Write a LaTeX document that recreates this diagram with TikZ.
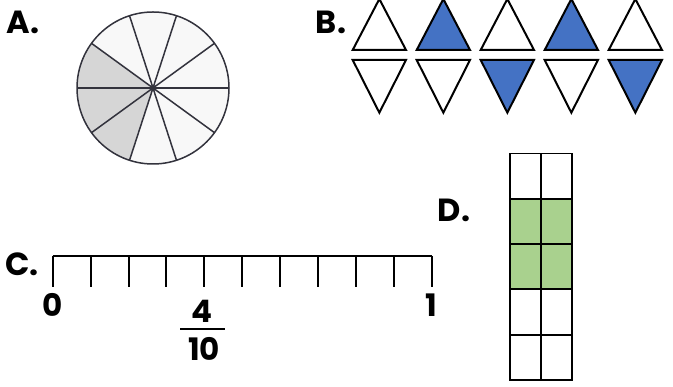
\documentclass[tikz,border=0pt]{standalone}
\usepackage{fontspec}
\setmainfont{Poppins}
\usetikzlibrary{positioning}
\definecolor{triblue}{RGB}{68,114,196}
\definecolor{gridgreen}{RGB}{169,209,142}
\definecolor{piegray}{RGB}{214,214,214}
\definecolor{piewhite}{RGB}{248,248,248}
\definecolor{pieline}{RGB}{51,51,61}

\begin{document}
\begin{tikzpicture}[x=1pt,y=1pt,
  partlabel/.style={font=\fontsize{32}{32}\selectfont\bfseries,inner sep=0pt},
  numlabel/.style={font=\fontsize{31}{31}\selectfont\bfseries,inner sep=0pt},
  tribox/.style={draw=black,line width=2pt},
  gridcell/.style={draw=black,line width=1.8pt}
]
  \useasboundingbox (0,0) rectangle (673,387);
  \fill[white] (0,0) rectangle (673,387);

  % A. circle in tenths
  \node[partlabel] (labA) at (23,365) {A.};
  \coordinate (pie) at (153,299);
  \fill[piewhite] (pie) circle (76);
  \fill[piegray] (pie) -- ++(144:76) arc[start angle=144,end angle=252,radius=76] -- cycle;
  \foreach \a in {0,36,...,324}
    \draw[pieline,line width=1.5pt] (pie) -- ++(\a:76);
  \draw[pieline,line width=1.5pt] (pie) circle (76);
  \fill[pieline] (pie) circle (3);

  % B. triangles
  \node[partlabel] (labB) at (331,365) {B.};
  \foreach \i/\c in {0/white,1/triblue,2/white,3/triblue,4/white}
    \draw[tribox,fill=\c] (352.7+64*\i,337) -- ++(53.3,0) -- ++(-26.65,51) -- cycle;
  \foreach \i/\c in {0/white,1/white,2/triblue,3/white,4/triblue}
    \draw[tribox,fill=\c] (352.7+64*\i,327) -- ++(53.3,0) -- ++(-26.65,-52.7) -- cycle;

  % C. number line
  \node[partlabel] (labC) at (22,123) {C.};
  \draw[line width=2pt] (52.7,131) -- (431.7,131);
  \foreach \k in {0,...,10}
    \draw[line width=2pt] (52.7+37.9*\k,131) -- (52.7+37.9*\k,100.3);
  \node[numlabel] (zero) at (52.7,82.3) {0};
  \node[numlabel] (one) at (431.2,82.3) {1};
  \node[numlabel] (numer) at (202,75.3) {4};
  \node[numlabel] (denom) at (204,38.3) {10};
  \coordinate (fracbar) at (202.5,58);
  \draw[line width=2pt] ([xshift=-22.5pt]fracbar) -- ([xshift=22.5pt]fracbar);

  % D. grid
  \node[partlabel] (labD) at (454,177) {D.};
  \fill[gridgreen] (510.3,97.6) rectangle (571.7,188.2);
  \foreach \r in {0,...,4} {
    \draw[gridcell] (510.3,7+45.3*\r) rectangle (541,52.3+45.3*\r);
    \draw[gridcell] (541,7+45.3*\r) rectangle (571.7,52.3+45.3*\r);
  }
\end{tikzpicture}
\end{document}
